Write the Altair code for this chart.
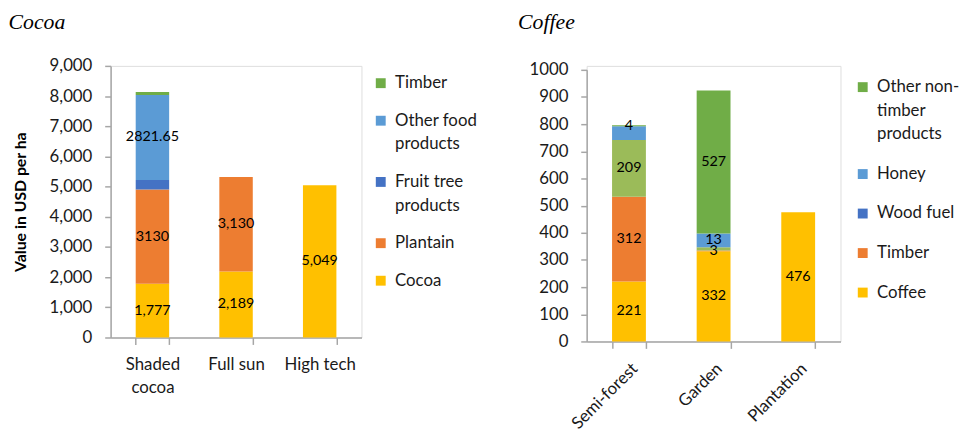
import json
import altair as alt
import pandas as pd

FONT = "Lato"
TXT = "#1a1a1a"
AXIS_GREY = "#A6A6A6"

# ---------------- Cocoa panel data ----------------
cocoa_systems = ["Shaded cocoa", "Full sun", "High tech"]
cocoa_series = ["Cocoa", "Plantain", "Fruit tree products", "Other food products", "Timber"]
cocoa_colors = ["#FFC000", "#ED7D31", "#4472C4", "#5B9BD5", "#70AD47"]
cocoa_legend = ["Timber", "Other food products", "Fruit tree products", "Plantain", "Cocoa"]

cocoa_cocoa = [1777, 2189, 5049]
cocoa_plantain = [3130, 3130, 0]
cocoa_fruit = [310, 0, 0]
cocoa_otherfood = [2821.65, 0, 0]
cocoa_timber = [95, 0, 0]

cocoa_lab_cocoa = ["1,777", "2,189", "5,049"]
cocoa_lab_plantain = ["3130", "3,130", ""]
cocoa_lab_fruit = ["", "", ""]
cocoa_lab_otherfood = ["2821.65", "", ""]
cocoa_lab_timber = ["", "", ""]

cocoa_ticks = [0, 1000, 2000, 3000, 4000, 5000, 6000, 7000, 8000, 9000]

# ---------------- Coffee panel data ----------------
coffee_systems = ["Semi-forest", "Garden", "Plantation"]
coffee_series = ["Coffee", "Timber", "Wood fuel", "Other products", "Honey",
                 "Other non-timber products"]
coffee_colors = ["#FFC000", "#ED7D31", "#4472C4", "#9BBB59", "#5B9BD5", "#70AD47"]
coffee_legend = ["Other non-timber products", "Honey", "Wood fuel", "Timber", "Coffee"]

coffee_coffee = [221, 332, 476]
coffee_timber = [312, 3, 0]
coffee_woodfuel = [0, 0, 0]
coffee_other = [209, 12, 0]
coffee_honey = [50, 50, 0]
coffee_ntp = [4, 527, 0]

coffee_lab_coffee = ["221", "332", "476"]
coffee_lab_timber = ["312", "3", ""]
coffee_lab_woodfuel = ["", "", ""]
coffee_lab_other = ["209", "", ""]
coffee_lab_honey = ["", "13", ""]
coffee_lab_ntp = ["4", "527", ""]

coffee_ticks = [0, 100, 200, 300, 400, 500, 600, 700, 800, 900, 1000]

cocoa_wrap = {"Other food products": ["Other food", "products"],
              "Fruit tree products": ["Fruit tree", "products"]}
coffee_wrap = {"Other non-timber products": ["Other non-", "timber", "products"]}
cocoa_xwrap = {"Shaded cocoa": ["Shaded", "cocoa"]}


def make_df(systems, series, values, labels):
    rows = []
    for k, (name, vals, labs) in enumerate(zip(series, values, labels)):
        for s, v, l in zip(systems, vals, labs):
            rows.append({"system": s, "series": name, "value": v, "label": l, "ord": k})
    return pd.DataFrame(rows)


def wrap_expr(wrap):
    expr = "datum.label"
    for key, lines in wrap.items():
        expr = f"datum.label === '{key}' ? {json.dumps(lines)} : ({expr})"
    return expr


cocoa_df = make_df(
    cocoa_systems, cocoa_series,
    [cocoa_cocoa, cocoa_plantain, cocoa_fruit, cocoa_otherfood, cocoa_timber],
    [cocoa_lab_cocoa, cocoa_lab_plantain, cocoa_lab_fruit, cocoa_lab_otherfood, cocoa_lab_timber],
)
coffee_df = make_df(
    coffee_systems, coffee_series,
    [coffee_coffee, coffee_timber, coffee_woodfuel, coffee_other, coffee_honey, coffee_ntp],
    [coffee_lab_coffee, coffee_lab_timber, coffee_lab_woodfuel, coffee_lab_other,
     coffee_lab_honey, coffee_lab_ntp],
)


def panel(df, systems, series, colors, legend_vals, wrap, ymax, yticks, yformat, ytitle,
          width, height, yrange, title, title_dx, title_offset, xangle, xwrap,
          legend_offset, legend_drop, legend_rowpad):
    xaxis = alt.Axis(
        title=None, labelAngle=xangle, tickBand="extent", labelExpr=wrap_expr(xwrap),
        labelFont=FONT, labelFontSize=17, labelColor=TXT, labelPadding=12,
        labelLineHeight=24,
        domainColor=AXIS_GREY, domainWidth=1.5, tickColor=AXIS_GREY, tickWidth=1.5,
        tickSize=7, grid=False,
    )
    x = alt.X("system:N", sort=systems,
              scale=alt.Scale(paddingInner=0.6, paddingOuter=0.3), axis=xaxis)
    yaxis = alt.Axis(
        values=yticks, format=yformat, labelFont=FONT, labelFontSize=17, labelColor=TXT,
        labelPadding=13, labelOverlap=False, domainColor=AXIS_GREY, domainWidth=1.5,
        tickColor=AXIS_GREY, tickWidth=1.5, tickSize=6, grid=False, titleFont=FONT,
        titleFontSize=16, titleFontWeight="bold", titleColor="#000", titlePadding=21,
    )
    yscale = alt.Scale(domain=[0, ymax], nice=False, range=yrange)
    bars = (
        alt.Chart(df)
        .transform_filter("datum.value > 0")
        .mark_bar()
        .encode(
            x=x,
            y=alt.Y("value:Q", stack="zero", scale=yscale, axis=yaxis, title=ytitle),
            color=alt.Color(
                "series:N",
                scale=alt.Scale(domain=series, range=colors),
                legend=alt.Legend(
                    values=legend_vals, title="\u00a0", titleFontSize=5,
                    titlePadding=legend_drop, orient="right", offset=legend_offset,
                    padding=0,
                    symbolType="square", symbolSize=100, symbolStrokeWidth=0,
                    labelFont=FONT, labelFontSize=17, labelColor=TXT, labelOffset=6,
                    labelExpr=wrap_expr(wrap), rowPadding=legend_rowpad, labelLimit=200,
                ),
            ),
            order=alt.Order("ord:Q"),
        )
    )
    text = (
        alt.Chart(df)
        .transform_stack(stack="value", groupby=["system"], sort=[alt.SortField("ord")],
                         as_=["y0", "y1"])
        .transform_calculate(mid="(datum.y0 + datum.y1) / 2")
        .transform_filter("datum.label != ''")
        .mark_text(font=FONT, fontSize=14.5, color="#000")
        .encode(
            x=alt.X("system:N", sort=systems, axis=xaxis),
            y=alt.Y("mid:Q", scale=yscale, axis=yaxis, title=ytitle),
            text="label:N",
        )
    )
    return alt.layer(bars, text).properties(
        width=width, height=height,
        title=alt.TitleParams(
            title, font="Liberation Serif", fontStyle="italic", fontWeight="normal",
            fontSize=22, color="#000", anchor="start", frame="bounds", dx=title_dx,
            offset=title_offset,
        ),
    )


cocoa_chart = panel(cocoa_df, cocoa_systems, cocoa_series, cocoa_colors, cocoa_legend,
                    cocoa_wrap, 9000, cocoa_ticks, ",.0f", "Value in USD per ha", 254, 275,
                    [275, 0], "Cocoa", -4, 23, 0, cocoa_xwrap, 11, 4, 20)
coffee_chart = panel(coffee_df, coffee_systems, coffee_series, coffee_colors, coffee_legend,
                     coffee_wrap, 1000, coffee_ticks, "d", None, 257, 279,
                     [279, 4], "Coffee", -11, 27, -45, {}, 14, 8, 22)

chart = (
    alt.hconcat(cocoa_chart, coffee_chart, spacing=39)
    .resolve_scale(color="independent", y="independent", x="independent")
    .properties(padding={"left": 8, "top": 8, "right": 0, "bottom": 0})
    .configure_view(strokeWidth=0)
    .configure(style={"guide-label": {"lineHeight": 24}})
)

chart.save("out.html", embed_options={"renderer": "svg", "actions": False})
